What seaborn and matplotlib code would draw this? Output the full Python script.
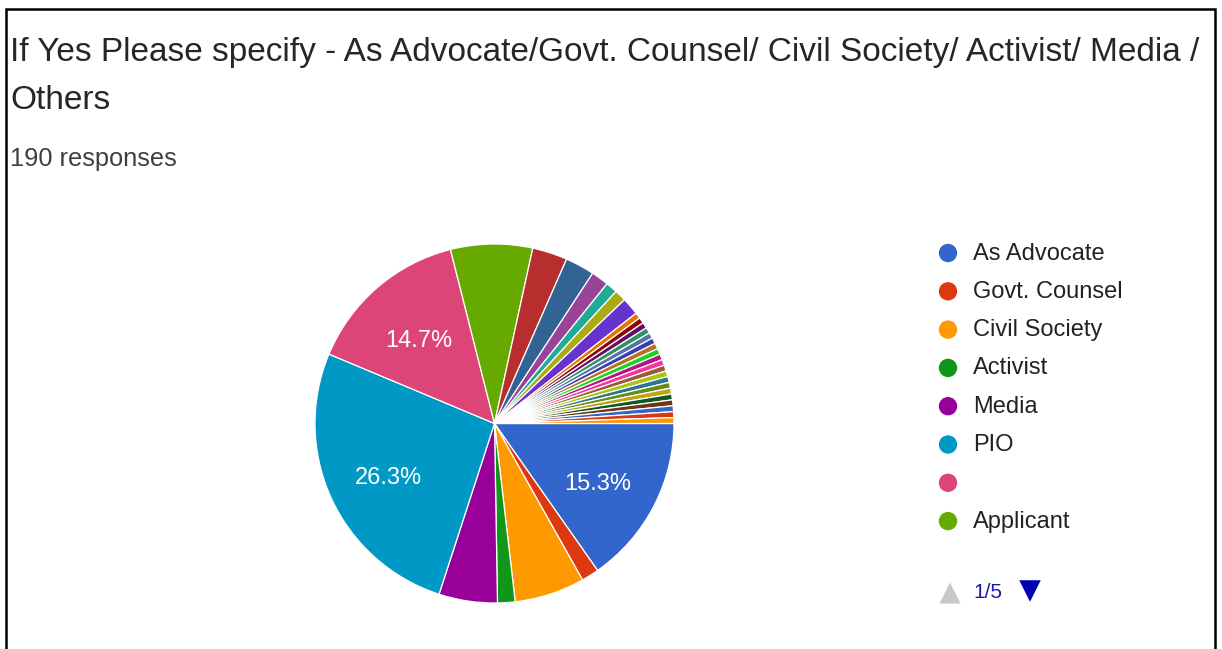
import matplotlib
matplotlib.use("Agg")
import matplotlib.pyplot as plt
import seaborn as sns

# Response counts per answer (190 responses in total), in survey order
counts = [29, 3, 12, 3, 10, 50, 28, 14, 6, 5, 3, 2, 2, 3,
          1, 1, 1, 1, 1, 1, 1, 1, 1, 1, 1, 1, 1, 1, 1, 1, 1, 1, 1, 1]
# Names shown on the first legend page
legend_labels = ["As Advocate", "Govt. Counsel", "Civil Society", "Activist",
                 "Media", "PIO", "", "Applicant"]
total_responses = 190
title_lines = ["If Yes Please specify - As Advocate/Govt. Counsel/ Civil Society/ Activist/ Media /",
               "Others"]
subtitle = f"{total_responses} responses"
page_text = "1/5"

chart_colors = ["#3366cc", "#dc3912", "#ff9900", "#109618", "#990099", "#0099c6",
                "#dd4477", "#66aa00", "#b82e2e", "#316395", "#994499", "#22aa99",
                "#aaaa11", "#6633cc", "#e67300", "#8b0707", "#651067", "#329262",
                "#5574a6", "#3b3eac", "#b77322", "#16d620", "#b91383", "#f4359e",
                "#9c5935", "#a9c413", "#2a778d", "#668d1c", "#bea413", "#0c5922",
                "#743411"]

sns.set_theme(style="white")
plt.rcParams["font.family"] = ["Liberation Sans", "DejaVu Sans"]

palette = sns.color_palette(chart_colors, n_colors=len(counts))

W, H = 1222, 649
fig = plt.figure(figsize=(W / 100, H / 100), dpi=100)
fig.patch.set_facecolor("white")

# Pie axes: centre at (494.5, 423.5) px, radius 179.5 px
cx, cy, r = 494.5, 423.5, 179.5
pad = 1.03
ax = fig.add_axes([(cx - r * pad) / W, (H - cy - r * pad) / H,
                   2 * r * pad / W, 2 * r * pad / H])


def pct_label(p):
    return f"{p:.1f}%" if p >= 10 else ""


wedges, _, autotexts = ax.pie(
    counts, colors=palette, startangle=0, counterclock=False, radius=1.0,
    autopct=pct_label, pctdistance=0.65,
    wedgeprops=dict(edgecolor="white", linewidth=0.9),
    textprops=dict(color="white", fontsize=17),
)
# nudge the percentage labels slightly downward
for t in autotexts:
    x, y = t.get_position()
    t.set_position((x, y - 0.035))

ax.set_xlim(-pad, pad)
ax.set_ylim(-pad, pad)
ax.set_aspect("equal")
ax.axis("off")

# Overlay axes in pixel units for the header, legend and frame
ov = fig.add_axes([0, 0, 1, 1], zorder=5)
ov.set_xlim(0, W)
ov.set_ylim(H, 0)
ov.axis("off")
ov.patch.set_alpha(0)

ov.text(10, 61, title_lines[0], fontsize=24, color="#262626", va="baseline", ha="left")
ov.text(10, 109, title_lines[1], fontsize=24, color="#262626", va="baseline", ha="left")
ov.text(10, 166, subtitle, fontsize=18.3, color="#3c4043", va="baseline", ha="left")

# Legend (first page)
leg_x, leg_y0, leg_dy = 948, 253, 38.3
for i, name in enumerate(legend_labels):
    y = leg_y0 + i * leg_dy
    ov.scatter([leg_x], [y], s=175, color=palette[i], edgecolor="none", zorder=6)
    ov.text(973, y + 0.5, name, fontsize=17, color="#222222", va="center", ha="left")

# Pager
ov.scatter([950], [593], marker="^", s=230, color="#c8c8c8", edgecolor="none")
ov.text(973, 593, page_text, fontsize=15, color="#1a1aa6", va="center", ha="left")
ov.scatter([1030], [591], marker="v", s=240, color="#0000b3", edgecolor="none")

# Frame
ov.plot([6, 6, 1215, 1215], [H + 5, 9, 9, H + 5], color="black", lw=1.8,
        solid_joinstyle="miter", clip_on=False)

fig.savefig("out.png", dpi=100, facecolor="white")
